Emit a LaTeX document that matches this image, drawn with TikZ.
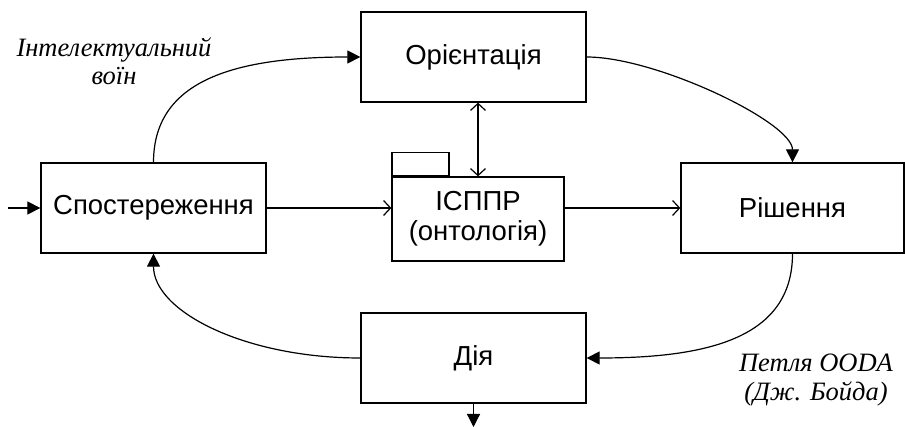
\documentclass[tikz,border=0pt]{standalone}
\usepackage{fontspec}
\setmainfont{Liberation Sans}
\newfontfamily\lserif{Liberation Serif}
\usetikzlibrary{arrows.meta}
\begin{document}
\begin{tikzpicture}[x=1pt,y=-1pt,
  box/.style={draw, line width=1.3pt, minimum width=225pt, minimum height=90pt, inner sep=0pt, align=center, font=\fontsize{27.5}{30}\selectfont},
  conn/.style={line width=1.2pt},
  fillarrow/.style={-{Triangle[length=13pt,width=13pt]}},
  barb/.style={-{Straight Barb[length=7pt,width=15pt]}},
  dbarb/.style={{Straight Barb[length=7pt,width=15pt]}-{Straight Barb[length=7pt,width=15pt]}},
  lbl/.style={font=\lserif\itshape\fontsize{26.5}{28.5}\selectfont, align=center}
]
\useasboundingbox (0,0) rectangle (905,427);
\fill[white] (0,0) rectangle (905,427);

\node[box] (obs) at (153.5,208) {Спостереження};
\node[box] (ori) at (473.5,57) {Орієнтація};
\node[box, minimum width=223pt] (dec) at (792.5,208) {Рішення};
\node[box] (act) at (473.5,358) {Дія};
\node[box, minimum width=172pt, minimum height=84pt] (isppr) at (478,219) {ІСППР\\(онтологія)};
\node[draw, line width=1.3pt, minimum width=57pt, minimum height=23pt, inner sep=0pt, anchor=south west] (tab) at (isppr.north west) {};

\coordinate (in) at (8,208);
\coordinate (out) at (473.5,427);

\node[lbl] (warrior) at (114,61) {Інтелектуальний\\воїн};
\node[lbl] (ooda) at (816,380) {Петля OODA\\(Дж. Бойда)};

\draw[conn, fillarrow] (in) -- (obs.west);
\draw[conn, barb] (obs.east) -- (obs.east -| isppr.west);
\draw[conn, barb] (isppr.east |- dec.west) -- (dec.west);
\draw[conn, dbarb] (ori.south -| isppr.north) -- (isppr.north);
\draw[conn, fillarrow] (act.south) -- (out);

\draw[conn, fillarrow] (obs.north) .. controls +(0,-80) and +(-130,0) .. (ori.west);
\draw[conn, fillarrow] (ori.east) .. controls +(70,0) and +(0,-40) .. (dec.north);
\draw[conn, fillarrow] (dec.south) .. controls +(0,85) and +(120,0) .. (act.east);
\draw[conn, fillarrow] (act.west) .. controls +(-115,0) and +(0,58) .. (obs.south);
\end{tikzpicture}
\end{document}
